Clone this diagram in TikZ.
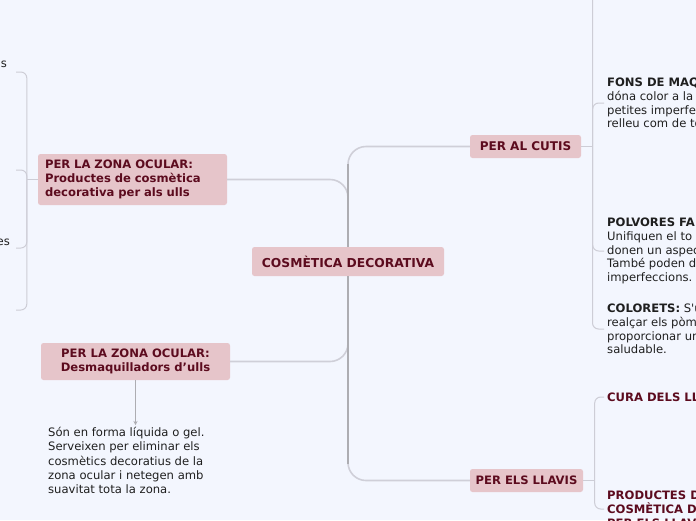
\documentclass[tikz,border=0pt]{standalone}
\usepackage{fontspec}
\setmainfont{DejaVu Sans}
\usetikzlibrary{arrows.meta,positioning,calc}
\definecolor{paper}{HTML}{F3F6FE}
\definecolor{rose}{HTML}{E6C5CA}
\definecolor{wine}{HTML}{5C0B1E}
\definecolor{trunkgray}{HTML}{ADADB2}
\definecolor{limbgray}{HTML}{CFCFD8}
\definecolor{twiggray}{HTML}{CDCDD6}
\definecolor{ink}{HTML}{1F1F1F}

\begin{document}
\begin{tikzpicture}[x=1pt, y=-1pt,
    every node/.style={font=\fontsize{11.6}{14.3}\selectfont},
    topic/.style={fill=rose, rounded corners=2.5pt, text=wine, font=\fontsize{11.6}{14}\selectfont\bfseries, inner sep=0pt},
    note/.style={anchor=west, align=left, inner xsep=3pt, inner ysep=2pt, text=ink, font=\fontsize{11.6}{14.3}\selectfont},
    side/.style={note, font=\fontsize{11.6}{13.8}\selectfont},
    head/.style={note, text=wine, font=\fontsize{11.6}{13.8}\selectfont\bfseries},
    limb/.style={draw=limbgray, line width=1.6pt, rounded corners=18pt},
    trunk/.style={draw=trunkgray, line width=2.2pt},
    twig/.style={draw=twiggray, line width=1pt, rounded corners=6pt}]
    \useasboundingbox (0,0) rectangle (696,520);
    \fill[paper] (0,0) rectangle (696,520);
    \clip (0,0) rectangle (696,520);

    % main topics
    \node[topic, font=\fontsize{12.3}{14}\selectfont\bfseries, minimum width=192pt, minimum height=29pt] (centre) at (348,261.5) {COSMÈTICA DECORATIVA};
    \node[topic, font=\fontsize{12}{14}\selectfont\bfseries, minimum width=111pt, minimum height=23pt] (cutis) at (525.5,146.5) {PER AL CUTIS};
    \node[topic, minimum width=113pt, minimum height=23pt] (llavis) at (526.5,480.5) {PER ELS LLAVIS};
    \node[topic, text width=175pt, align=left, inner xsep=7pt, minimum height=51pt] (ullsA) at (132.5,179.5)
        {PER LA ZONA OCULAR:\\Productes de cosmètica\\decorativa per als ulls};
    \node[topic, align=center, minimum width=189pt, minimum height=37pt] (desmaq) at (135.5,361.5)
        {PER LA ZONA OCULAR:\\ Desmaquilladors d’ulls};

    % subtopics
    \node[note, anchor=north west] (desmaqtext) at (45,425)
        {Són en forma líquida o gel.\\Serveixen per eliminar els\\cosmètics decoratius de la\\zona ocular i netegen amb\\suavitat tota la zona.};
    \node[side] (fons) at (604,103)
        {\textbf{FONS DE MAQU}\\dóna color a la c\\petites imperfec\\relleu com de to};
    \node[side] (polvores) at (604,251)
        {\textbf{POLVORES FA}\\Unifiquen el to\\donen un aspec\\També poden d\\imperfeccions.};
    \node[side] (colorets) at (604,329)
        {\textbf{COLORETS:} S\textquotesingle u\\realçar els pòm\\proporcionar un\\saludable.};
    \node[head] (cura) at (604,397) {CURA DELS LL};
    \node[head] (productes) at (604,509) {PRODUCTES D\\COSMÈTICA D\\PER ELS LLAV};
    \node[note, anchor=east] (ojotext1) at (10,64) {s};
    \node[note, anchor=east] (ojotext3) at (13,242) {es};

    % hidden ends
    \coordinate (cutistop) at (592.5,-10);
    \coordinate (ojo1) at (16,72);
    \coordinate (ojo2) at (16,170);
    \coordinate (ojo3) at (16,248);
    \coordinate (ojo4) at (16,310);
    \coordinate (cutisfork) at ($(cutis.east)+(11.5,0)$);
    \coordinate (llavisfork) at ($(llavis.east)+(11.5,0)$);
    \coordinate (ullsfork) at ($(ullsA.west)+(-11,0)$);

    % trunk
    \draw[limb] (centre.north) |- (cutis.west);
    \draw[limb] (centre.south) |- (llavis.west);
    \draw[limb] (ullsA.east) -| (centre.north);
    \draw[limb] (desmaq.east) -| (centre.south);
    \draw[trunk] ($(centre.north |- cutis.west)+(0,17)$) -- (centre.north);
    \draw[trunk] (centre.south) -- ($(centre.south |- llavis.west)+(0,-17)$);

    % branches
    \draw[twig] (cutis.east) -- (cutisfork);
    \draw[twig] (cutistop) |- (colorets.west);
    \draw[twig] (cutisfork) |- (fons.west);
    \draw[twig] (cutisfork) |- (polvores.west);
    \draw[twig] (llavis.east) -- (llavisfork);
    \draw[twig] (cura.west) -| (llavisfork) |- (productes.west);
    \draw[twig] (ullsA.west) -- (ullsfork);
    \draw[twig] (ojo1) -| (ullsfork) |- (ojo4);
    \draw[twig] (ullsfork) |- (ojo2);
    \draw[twig] (ullsfork) |- (ojo3);
    \draw[draw=trunkgray, line width=1pt, -{Stealth[length=4pt, width=4pt]}] (desmaq.south) -- (desmaq.south |- desmaqtext.north);
\end{tikzpicture}
\end{document}
